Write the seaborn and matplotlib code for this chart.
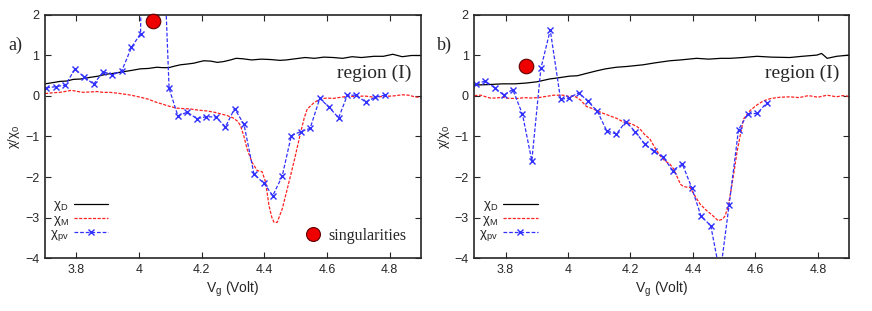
import numpy as np
import pandas as pd
import seaborn as sns
import matplotlib.pyplot as plt
from matplotlib.lines import Line2D

# ---- panel a) data ----
a_black_x = [3.70, 3.725, 3.748, 3.77, 3.79, 3.815, 3.844, 3.87, 3.897, 3.92, 3.95, 3.975, 4.004, 4.03,
             4.057, 4.075, 4.095, 4.115, 4.132, 4.155, 4.175, 4.19, 4.207, 4.23, 4.25, 4.27, 4.292, 4.31,
             4.33, 4.36, 4.39, 4.42, 4.45, 4.47, 4.50, 4.53, 4.56, 4.59, 4.62, 4.65, 4.68, 4.71, 4.75,
             4.78, 4.81, 4.84, 4.87, 4.90]
a_black_y = [0.30, 0.33, 0.36, 0.37, 0.41, 0.42, 0.46, 0.49, 0.54, 0.56, 0.60, 0.63, 0.67, 0.68,
             0.71, 0.70, 0.70, 0.74, 0.77, 0.79, 0.81, 0.84, 0.87, 0.86, 0.83, 0.85, 0.89, 0.93,
             0.92, 0.89, 0.91, 0.90, 0.88, 0.89, 0.92, 0.95, 0.93, 0.96, 0.95, 0.93, 0.97, 0.95, 0.98,
             0.98, 1.03, 0.97, 1.00, 1.00]

a_red_x = [3.70, 3.725, 3.748, 3.77, 3.785, 3.805, 3.823, 3.845, 3.865, 3.885, 3.908, 3.93, 3.95, 3.975,
           4.004, 4.03, 4.057, 4.075, 4.09, 4.105, 4.12, 4.14, 4.164, 4.19, 4.217, 4.24, 4.26, 4.28,
           4.30, 4.314, 4.324, 4.335, 4.345, 4.361, 4.377, 4.393, 4.404, 4.415, 4.424, 4.431, 4.441,
           4.457, 4.473, 4.494, 4.516, 4.527, 4.537, 4.559, 4.58, 4.60, 4.62, 4.645, 4.665, 4.697,
           4.72, 4.75, 4.78, 4.81, 4.84, 4.86, 4.88, 4.90]
a_red_y = [0.06, 0.08, 0.09, 0.12, 0.14, 0.11, 0.09, 0.10, 0.11, 0.09, 0.09, 0.07, 0.05, 0.02,
           -0.03, -0.08, -0.16, -0.20, -0.24, -0.27, -0.30, -0.31, -0.32, -0.35, -0.37, -0.40, -0.44, -0.48,
           -0.54, -0.62, -0.73, -1.00, -1.31, -1.64, -1.84, -1.87, -2.13, -2.71, -3.00, -3.12, -3.12,
           -2.79, -2.30, -1.64, -0.90, -0.55, -0.32, -0.16, -0.07, -0.05, -0.06, -0.03, -0.01, -0.01,
           0.00, -0.03, -0.01, 0.00, 0.03, 0.02, -0.02, -0.04]

a_blue_x = [3.704, 3.734, 3.765, 3.795, 3.826, 3.855, 3.886, 3.915, 3.945, 3.976, 4.005, 4.035, 4.066,
            4.096, 4.124, 4.154, 4.185, 4.215, 4.245, 4.276, 4.305, 4.335, 4.367, 4.399, 4.427, 4.457,
            4.486, 4.516, 4.546, 4.577, 4.607, 4.637, 4.665, 4.694, 4.723, 4.754, 4.784]
a_blue_y = [0.20, 0.23, 0.27, 0.66, 0.47, 0.29, 0.60, 0.52, 0.62, 1.20, 1.54, 20.0, 6.2,
            0.19, -0.49, -0.40, -0.56, -0.51, -0.52, -0.76, -0.31, -0.70, -1.93, -2.16, -2.46, -1.98,
            -0.98, -0.88, -0.80, -0.06, -0.28, -0.54, 0.02, 0.02, -0.15, -0.03, 0.02]

a_sing = (4.044, 1.85)

# ---- panel b) data ----
b_black_x = [3.70, 3.74, 3.79, 3.83, 3.866, 3.90, 3.941, 3.97, 4.005, 4.03, 4.06, 4.091, 4.12, 4.155,
             4.19, 4.24, 4.28, 4.326, 4.36, 4.412, 4.45, 4.49, 4.519, 4.56, 4.605, 4.65, 4.71, 4.75,
             4.797, 4.812, 4.83, 4.86, 4.90]
b_black_y = [0.27, 0.28, 0.30, 0.30, 0.32, 0.35, 0.42, 0.45, 0.49, 0.50, 0.56, 0.62, 0.67, 0.71,
             0.73, 0.77, 0.82, 0.87, 0.89, 0.93, 0.91, 0.93, 0.93, 0.95, 0.98, 0.96, 0.95, 0.98,
             1.01, 1.05, 0.93, 0.98, 1.01]

b_red_x = [3.70, 3.72, 3.75, 3.77, 3.79, 3.813, 3.84, 3.86, 3.88, 3.905, 3.93, 3.955, 3.984, 4.00,
           4.02, 4.04, 4.059, 4.075, 4.091, 4.11, 4.134, 4.155, 4.177, 4.20, 4.22, 4.23, 4.245, 4.262,
           4.28, 4.294, 4.31, 4.326, 4.338, 4.348, 4.36, 4.369, 4.38, 4.391, 4.405, 4.423, 4.444, 4.46,
           4.481, 4.495, 4.503, 4.512, 4.519, 4.53, 4.541, 4.552, 4.562, 4.583, 4.605, 4.626, 4.65,
           4.68, 4.71, 4.74, 4.77, 4.80, 4.83, 4.86, 4.88, 4.90]
b_red_y = [0.01, 0.02, -0.05, -0.05, -0.03, -0.06, -0.06, -0.04, -0.05, -0.04, -0.01, 0.02, 0.02, -0.01,
           0.00, -0.10, -0.26, -0.30, -0.36, -0.42, -0.49, -0.55, -0.64, -0.68, -0.75, -0.81, -0.95, -1.06,
           -1.30, -1.47, -1.60, -1.68, -1.80, -1.97, -2.18, -2.23, -2.25, -2.26, -2.45, -2.67, -2.83, -2.93,
           -3.08, -3.04, -2.96, -2.75, -2.46, -1.95, -1.39, -0.95, -0.57, -0.36, -0.22, -0.12, -0.06,
           -0.03, -0.02, -0.04, 0.01, -0.03, 0.02, -0.02, 0.01, -0.01]

b_blue_x = [3.706, 3.735, 3.765, 3.794, 3.823, 3.854, 3.884, 3.913, 3.943, 3.976, 4.003, 4.034, 4.064,
            4.094, 4.124, 4.155, 4.185, 4.215, 4.245, 4.275, 4.305, 4.335, 4.366, 4.396, 4.426, 4.457,
            4.487, 4.516, 4.546, 4.576, 4.606, 4.636]
b_blue_y = [0.30, 0.37, 0.20, 0.02, 0.16, -0.45, -1.60, 0.68, 1.63, -0.08, -0.05, 0.08, -0.13,
            -0.38, -0.86, -0.94, -0.63, -0.88, -1.18, -1.37, -1.51, -1.84, -1.68, -2.26, -2.97, -3.20,
            -4.40, -2.68, -0.83, -0.44, -0.43, -0.17]

b_sing = (3.866, 0.73)

x_ticks = [3.8, 4.0, 4.2, 4.4, 4.6, 4.8]
x_ticklabels = ['3.8', '4', '4.2', '4.4', '4.6', '4.8']
y_ticks = [-4, -3, -2, -1, 0, 1, 2]

sns.set_style('ticks')
plt.rcParams['font.family'] = ['Liberation Sans', 'DejaVu Sans']
plt.rcParams['mathtext.fontset'] = 'dejavusans'

BLACK = '#000000'
RED = '#ff2020'
BLUE = '#3030ff'
SERIF = ['Liberation Serif', 'DejaVu Serif']

fig = plt.figure(figsize=(8.72, 3.11), dpi=100)
ax_a = fig.add_axes([0.0516, 0.1704, 0.4312, 0.7814])
ax_b = fig.add_axes([0.5440, 0.1704, 0.4297, 0.7814])


def draw_panel(ax, bx, by, rx, ry, ux, uy, sing, tag, show_sing_legend):
    sns.lineplot(data=pd.DataFrame({'x': bx, 'y': by}), x='x', y='y', ax=ax,
                 color=BLACK, lw=0.9, estimator=None)
    sns.lineplot(data=pd.DataFrame({'x': rx, 'y': ry}), x='x', y='y', ax=ax,
                 color=RED, lw=0.9, dashes=False, estimator=None, linestyle=(0, (2.5, 1.2)))
    sns.lineplot(data=pd.DataFrame({'x': ux, 'y': uy}), x='x', y='y', ax=ax,
                 color=BLUE, lw=0.9, estimator=None, linestyle=(0, (3, 1.5)),
                 marker='x', markersize=4, markeredgewidth=1.0, markeredgecolor=BLUE)
    sns.scatterplot(x=[sing[0]], y=[sing[1]], ax=ax, s=110, color='#ee0000',
                    edgecolor='#600000', linewidth=0.8, zorder=5, clip_on=False)

    ax.set_xlim(3.7, 4.9)
    ax.set_ylim(-4, 2)
    ax.set_xticks(x_ticks)
    ax.set_xticklabels(x_ticklabels)
    ax.set_yticks(y_ticks)
    ax.tick_params(direction='in', top=True, right=True, length=4, width=0.8,
                   labelsize=9, pad=4)
    for sp in ax.spines.values():
        sp.set_linewidth(1.2)
    ax.set_xlabel(r'V$_\mathregular{g}$ (Volt)', fontsize=10, labelpad=3)
    ax.set_ylabel('χ/χ$_\\mathregular{0}$', fontsize=9.5, labelpad=2)

    ax.text(4.87, 0.55, 'region (I)', family=SERIF, fontsize=14, ha='right', va='center')
    ax.text(-0.08, 0.875, tag, transform=ax.transAxes, family=SERIF, fontsize=13,
            ha='center', va='center')

    handles = [
        Line2D([], [], color=BLACK, lw=0.9),
        Line2D([], [], color=RED, lw=0.9, linestyle=(0, (2.5, 1.2))),
        Line2D([], [], color=BLUE, lw=0.9, linestyle=(0, (3, 1.5)), marker='x',
               markersize=4, markeredgewidth=1.0),
    ]
    labels = ['χ$_\\mathregular{D}$', 'χ$_\\mathregular{M}$', 'χ$_\\mathregular{pv}$']
    leg = ax.legend(handles, labels, loc='lower left', frameon=False, markerfirst=False,
                    fontsize=9.5, handlelength=2.6, handletextpad=0.4, labelspacing=0.0,
                    borderaxespad=0.1, bbox_to_anchor=(-0.005, 0.035))
    if show_sing_legend:
        ax.add_artist(leg)
        sh = [Line2D([], [], linestyle='none', marker='o', markersize=10,
                     markerfacecolor='#ee0000', markeredgecolor='#600000', markeredgewidth=0.8)]
        ax.legend(sh, ['singularities'], loc='lower right', frameon=False,
                  prop={'family': SERIF, 'size': 11.5}, handlelength=1.0, handletextpad=0.5,
                  bbox_to_anchor=(1.0, 0.0))


draw_panel(ax_a, a_black_x, a_black_y, a_red_x, a_red_y, a_blue_x, a_blue_y, a_sing, 'a)', True)
draw_panel(ax_b, b_black_x, b_black_y, b_red_x, b_red_y, b_blue_x, b_blue_y, b_sing, 'b)', False)

fig.savefig('out.png', dpi=100)
